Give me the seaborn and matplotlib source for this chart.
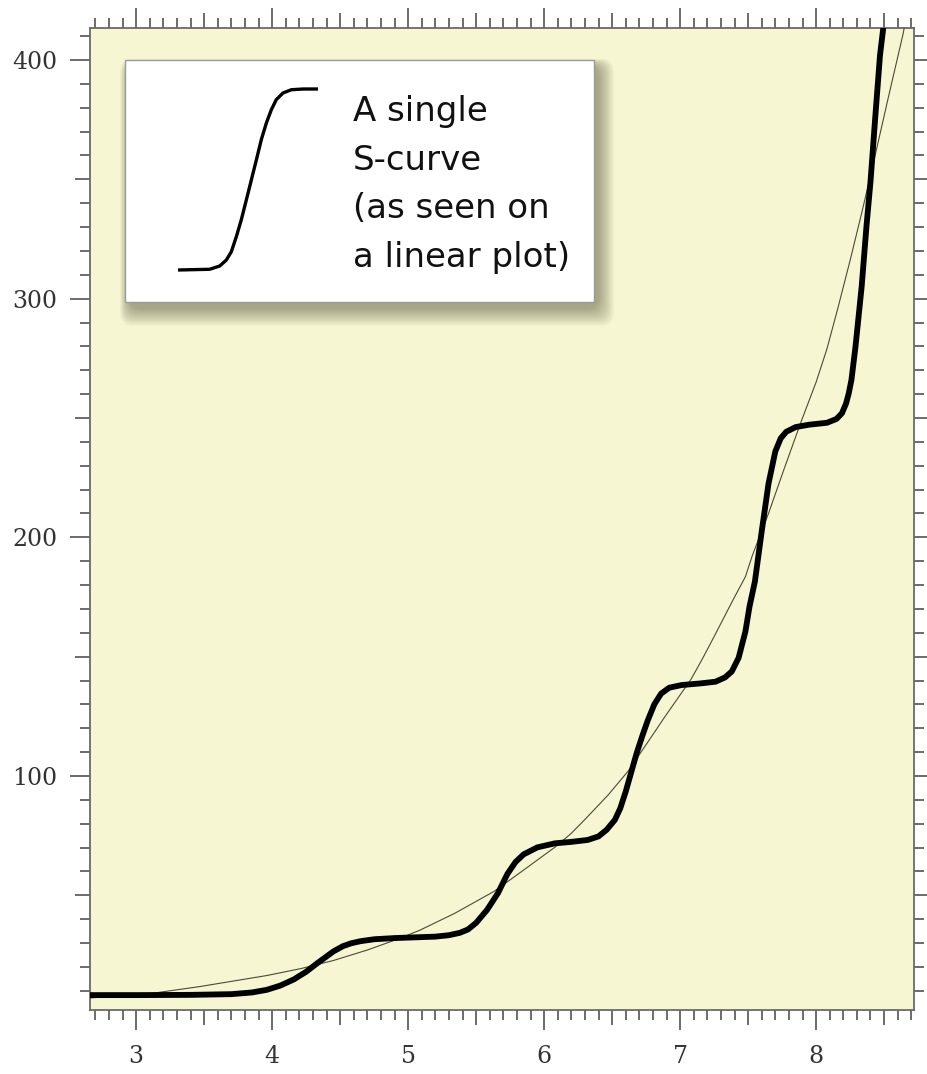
import matplotlib
matplotlib.use("Agg")
import matplotlib.pyplot as plt
import seaborn as sns
from matplotlib.ticker import MultipleLocator, FuncFormatter
from matplotlib.patches import FancyBboxPatch

# thick curve: a staircase of S-curves
thick_x = [2.66, 3.00, 3.40, 3.70, 3.85, 3.96, 4.06, 4.16, 4.25, 4.33, 4.45, 4.52,
           4.58, 4.65, 4.75, 4.90, 5.05, 5.20, 5.30, 5.38, 5.44, 5.50, 5.58, 5.66,
           5.73, 5.79, 5.85, 5.95, 6.08, 6.20, 6.32, 6.40, 6.46, 6.52, 6.56, 6.60,
           6.64, 6.68, 6.72, 6.76, 6.81, 6.86, 6.92, 7.01, 7.15, 7.26, 7.33, 7.38,
           7.43, 7.48, 7.51, 7.55, 7.60, 7.65, 7.70, 7.74, 7.78, 7.85, 7.95, 8.08,
           8.15, 8.19, 8.22, 8.24, 8.26, 8.29, 8.335, 8.37, 8.40, 8.435, 8.47, 8.51]
thick_y = [8.2, 8.2, 8.3, 8.6, 9.3, 10.4, 12.2, 14.8, 18.0, 21.5, 26.5, 28.7,
           29.9, 30.8, 31.6, 32.1, 32.4, 32.7, 33.3, 34.3, 35.7, 38.5, 43.9, 50.9,
           59.0, 64.0, 67.2, 70.1, 71.8, 72.4, 73.2, 74.7, 77.5, 81.6, 86.5, 93.5,
           101.5, 109.5, 116.5, 123.0, 130.0, 134.5, 137.0, 138.1, 138.8, 139.5, 141.3, 143.8,
           149.5, 160.5, 170.9, 181.5, 202.5, 222.5, 236.0, 241.5, 244.2, 246.2, 247.2, 248.0,
           249.6, 252.0, 256.0, 260.3, 266.0, 280.0, 305.0, 330.0, 349.0, 376.0, 402.0, 421.0]

# thin curve: the smooth exponential
thin_x = [2.66, 3.10, 3.47, 3.96, 4.21, 4.45, 4.70, 4.93, 5.09, 5.34, 5.63, 5.83,
          6.08, 6.20, 6.30, 6.47, 6.62, 6.76, 6.89, 7.08, 7.16, 7.25, 7.38, 7.48,
          7.53, 7.65, 7.77, 7.89, 8.00, 8.08, 8.16, 8.25, 8.34, 8.43, 8.53, 8.64, 8.67]
thin_y = [7.0, 8.8, 11.8, 16.4, 19.3, 22.7, 27.1, 31.8, 35.5, 42.4, 51.6, 59.8,
          70.2, 76.0, 81.8, 92.0, 102.2, 114.0, 125.0, 140.5, 148.7, 158.4, 172.8, 183.5,
          192.2, 210.0, 229.5, 248.5, 265.0, 279.0, 296.0, 316.0, 337.0, 359.0, 384.0, 411.0, 420.0]

# legend icon (normalised 0..1 inside its little box)
icon_u = [0, 0.226, 0.298, 0.345, 0.381, 0.417, 0.452, 0.488, 0.524, 0.560,
          0.595, 0.631, 0.667, 0.702, 0.750, 0.810, 0.893, 1.0]
icon_v = [0, 0.004, 0.022, 0.055, 0.101, 0.185, 0.277, 0.387, 0.498, 0.609,
          0.720, 0.812, 0.886, 0.941, 0.978, 0.996, 1.0, 1.0]

legend_lines = ["A single", "S-curve", "(as seen on", "a linear plot)"]

sns.set_theme(style="ticks")
plt.rcParams["font.family"] = ["DejaVu Serif"]

fig = plt.figure(figsize=(9.28, 10.74), dpi=100)
fig.patch.set_facecolor("white")
ax = fig.add_axes([90 / 928, 64 / 1074, 824 / 928, 982 / 1074])
ax.set_facecolor("#F6F6D3")


def px(xp, yp):
    # reference pixel -> axes fraction
    return (xp - 90) / 824, (1010 - yp) / 982


sns.lineplot(x=thin_x, y=thin_y, ax=ax, color="#4a4a38", linewidth=0.8,
             estimator=None, sort=False, zorder=3)
sns.lineplot(x=thick_x, y=thick_y, ax=ax, color="black", linewidth=4.2,
             estimator=None, sort=False, zorder=4,
             solid_capstyle="round", solid_joinstyle="round")

ax.set_xlim(2.66, 8.72)
ax.set_ylim(1.96, 413.4)

# axes styling
for s in ax.spines.values():
    s.set_color("#6a6a6a")
    s.set_linewidth(1.3)
ax.xaxis.set_major_locator(MultipleLocator(1))
ax.xaxis.set_minor_locator(MultipleLocator(0.1))
ax.yaxis.set_major_locator(MultipleLocator(100))
ax.yaxis.set_minor_locator(MultipleLocator(10))
ax.xaxis.set_major_formatter(FuncFormatter(lambda v, p: f"{v:.0f}"))
ax.yaxis.set_major_formatter(FuncFormatter(lambda v, p: f"{v:.0f}"))
ax.tick_params(which="both", direction="out", top=True, right=True,
               labeltop=False, labelright=False, color="#444444", width=1.1)
ax.tick_params(which="major", length=14.4)
ax.tick_params(which="minor", length=7.2)
ax.tick_params(axis="x", which="major", pad=10.5, labelsize=17, labelcolor="#333333")
ax.tick_params(axis="y", which="major", pad=9, labelsize=17, labelcolor="#333333")
ax.set_xlabel("")
ax.set_ylabel("")
ax.grid(False)

# legend box with a soft, diffuse drop shadow (mostly below and right)
x0, y0 = px(125, 302)
x1, y1 = px(594, 60)
n = 18
for i in range(n):
    g = (n - i) * 1.0
    sx0, sy0 = px(125 + 4 - g * 0.5, 302 + 6 + g)
    sx1, sy1 = px(594 + 4 + g * 0.9, 60 + 6 - g * 0.4)
    ax.add_patch(FancyBboxPatch((sx0, sy0), sx1 - sx0, sy1 - sy0,
                                boxstyle="round,pad=0,rounding_size=0.015",
                                transform=ax.transAxes, facecolor="#2a2a10",
                                edgecolor="none", alpha=0.022, zorder=5))
ax.add_patch(FancyBboxPatch((x0, y0), x1 - x0, y1 - y0, boxstyle="square,pad=0",
                            transform=ax.transAxes, facecolor="white",
                            edgecolor="#9a9a9a", linewidth=1.0, zorder=6))

ix0, iy0 = px(178, 270)
ix1, iy1 = px(318, 89)
ax.plot([ix0 + u * (ix1 - ix0) for u in icon_u],
        [iy0 + v * (iy1 - iy0) for v in icon_v],
        transform=ax.transAxes, color="black", linewidth=2.4,
        solid_capstyle="butt", solid_joinstyle="round", zorder=7)

for k, line in enumerate(legend_lines):
    tx, ty = px(353, 121.5 + k * 48.5)
    ax.text(tx, ty, line, transform=ax.transAxes, ha="left", va="baseline",
            fontsize=24.5, family=["DejaVu Sans"], color="#111111", zorder=7)

# medium-length ticks at the halves / fifties
fig.canvas.draw()
for axis, step in ((ax.xaxis, 0.5), (ax.yaxis, 50)):
    for t, loc in zip(axis.get_minor_ticks(), axis.get_minorticklocs()):
        r = loc / step
        if abs(r - round(r)) < 1e-6:
            t.tick1line.set_markersize(10.8)
            t.tick2line.set_markersize(10.8)

fig.savefig("out.png", dpi=100)
